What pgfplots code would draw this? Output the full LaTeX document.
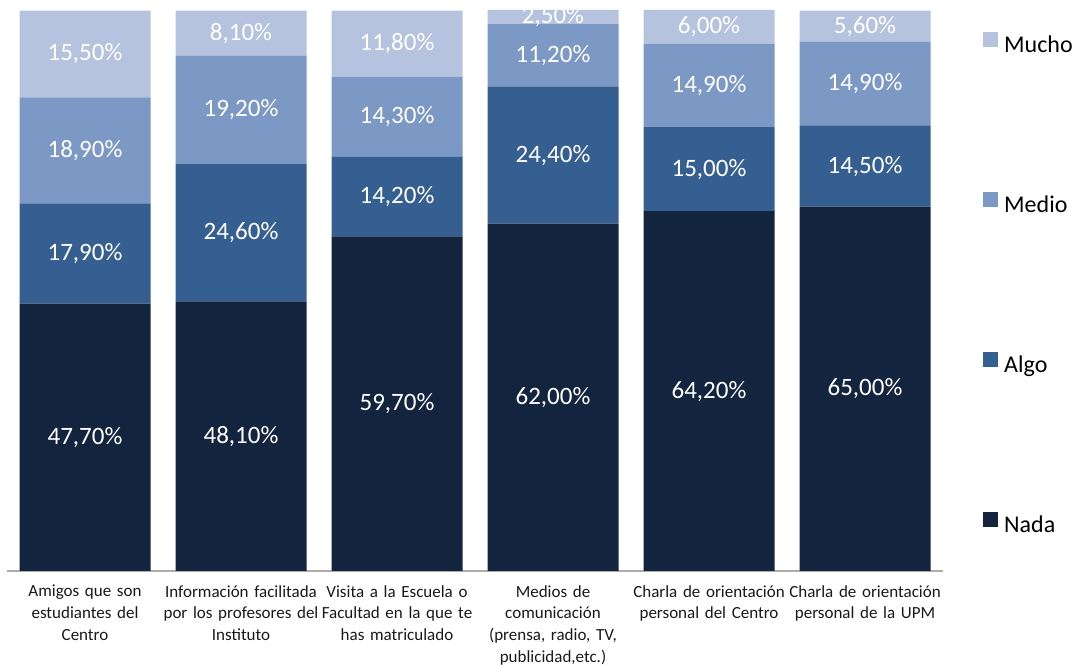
\documentclass[border=0pt]{standalone}
\usepackage{fontspec}
\setmainfont{Carlito}
\usepackage{pgfplots}
\usepackage{pgfplotstable}
\pgfplotsset{compat=1.18}

\definecolor{cnada}{HTML}{13243F}
\definecolor{calgo}{HTML}{365F91}
\definecolor{cmedio}{HTML}{7C98C5}
\definecolor{cmucho}{HTML}{B5C3DE}

\pgfplotstableread{
x nada algo medio mucho
0 47.7 17.9 18.9 15.5
1 48.1 24.6 19.2 8.1
2 59.7 14.2 14.3 11.8
3 62.0 24.4 11.2 2.5
4 64.2 15.0 14.9 6.0
5 65.0 14.5 14.9 5.6
}\data

\begin{document}
\begin{tikzpicture}
\begin{axis}[
  name=ax,
  scale only axis,
  width=936bp, height=561bp,
  ybar stacked,
  bar width=131bp,
  xmin=-0.5, xmax=5.5,
  ymin=0, ymax=100.1,
  axis x line*=bottom,
  axis y line=none,
  x axis line style={-, draw=gray!65, line width=1.5bp},
  xtick={0,1,2,3,4,5},
  xtick style={draw=none},
  major tick length=0pt,
  xticklabels={
    {Amigos que son\\estudiantes del\\Centro},
    {Información facilitada\\por los profesores del\\Instituto},
    {Visita a la Escuela o\\Facultad en la que te\\has matriculado},
    {Medios de\\comunicación\\(prensa, radio, TV,\\publicidad,etc.)},
    {Charla de orientación\\personal del Centro},
    {Charla de orientación\\personal de la UPM}},
  xticklabel style={font=\fontsize{17bp}{21.7bp}\selectfont, align=center,
    text width=170bp, text=black!90, anchor=north, inner sep=0pt, yshift=-14bp},
  point meta=explicit,
  nodes near coords={\pgfmathprintnumber[fixed,fixed zerofill,precision=2,use comma,assume math mode=true]{\pgfplotspointmeta}\%},
  nodes near coords align=center,
  every node near coord/.append style={font=\fontsize{25bp}{30bp}\selectfont,
    text=white, anchor=center},
  reverse legend,
  legend cell align=left,
  legend image code/.code={\fill[#1] (0bp,0bp) rectangle (15bp,15bp);},
  legend style={at={(1,1)}, anchor=north west, xshift=40bp, yshift=-22bp,
    draw=none, fill=none, inner sep=0pt, row sep=134.5bp, column sep=6bp,
    font=\fontsize{24bp}{28bp}\selectfont,
    nodes={inner sep=0pt, text height=16bp, text depth=5bp}},
  clip=false,
]
\addplot[fill=cnada, draw=none] table[x=x, y=nada, meta=nada]{\data};
\addplot[fill=calgo, draw=none] table[x=x, y=algo, meta=algo]{\data};
\addplot[fill=cmedio, draw=none] table[x=x, y=medio, meta=medio]{\data};
\addplot[fill=cmucho, draw=none] table[x=x, y=mucho, meta=mucho]{\data};
\legend{Nada, Algo, Medio, Mucho}
\end{axis}
\path ([shift={(-7bp,-93bp)}]ax.south west) rectangle ([shift={(140bp,10bp)}]ax.north east);
\end{tikzpicture}
\end{document}
